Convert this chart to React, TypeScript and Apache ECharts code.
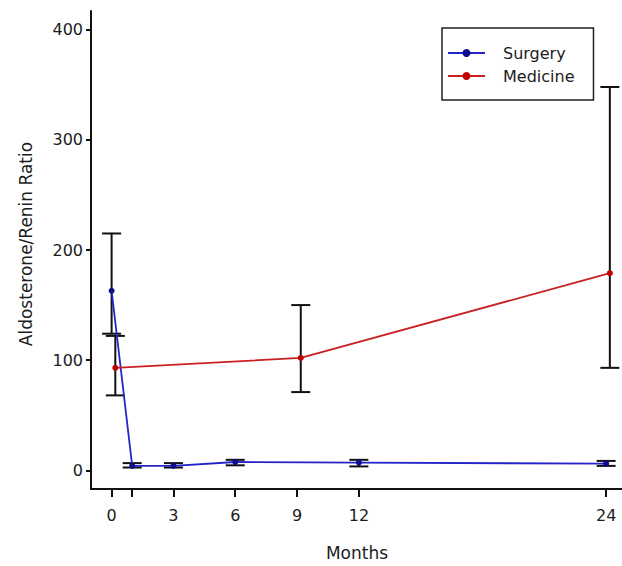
import React, { useEffect, useRef } from "react";
import * as echarts from "echarts";

// ---- Data ----
const surgeryMonths = [0, 1, 3, 6, 12, 24];
const surgeryMean = [163, 4, 4, 7.5, 7, 6];
const surgeryLow = [124, 2.5, 2.5, 4.5, 3.5, 4];
const surgeryHigh = [215, 6.5, 6.5, 9.5, 9.5, 8.5];

const medicineMonths = [0, 9, 24];
const medicineMean = [93, 102, 179];
const medicineLow = [68, 71, 93];
const medicineHigh = [122, 150, 348];

const xTickValues = [0, 1, 3, 6, 9, 12, 24];
const xLabelValues = [0, 3, 6, 9, 12, 24];
const yTickValues = [0, 100, 200, 300, 400];

const MEDICINE_NUDGE = 0.18; // horizontal nudge of the Medicine series, as in the reference

const FONT = "'DejaVu Sans', 'Liberation Sans', Arial, sans-serif";
const TEXT = "#1c1c1c";

export default function App() {
  const ref = useRef<HTMLDivElement>(null);

  useEffect(() => {
    if (!ref.current) return;
    const chart = echarts.init(ref.current, null, { renderer: "svg" });

    const surgeryLine = surgeryMonths.map((m, i) => [m, surgeryMean[i]]);
    const medicineLine = medicineMonths.map((m, i) => [m + MEDICINE_NUDGE, medicineMean[i]]);
    const surgeryErr = surgeryMonths.map((m, i) => [m, surgeryLow[i], surgeryHigh[i]]);
    const medicineErr = medicineMonths.map((m, i) => [m + MEDICINE_NUDGE, medicineLow[i], medicineHigh[i]]);

    const errorRender = (params: any, api: any) => {
      const x = api.value(0);
      const lo = api.coord([x, api.value(1)]);
      const hi = api.coord([x, api.value(2)]);
      const hw = 9.5;
      const style = { stroke: "#111", lineWidth: 2 };
      return {
        type: "group",
        children: [
          { type: "line", shape: { x1: lo[0], y1: lo[1], x2: hi[0], y2: hi[1] }, style },
          { type: "line", shape: { x1: hi[0] - hw, y1: hi[1], x2: hi[0] + hw, y2: hi[1] }, style },
          { type: "line", shape: { x1: lo[0] - hw, y1: lo[1], x2: lo[0] + hw, y2: lo[1] }, style },
        ],
      };
    };

    chart.setOption({
      animation: false,
      backgroundColor: "#ffffff",
      grid: { left: 91, top: 11, width: 531, height: 478, containLabel: false },
      legend: {
        orient: "vertical",
        left: 442,
        top: 28,
        padding: [17, 19, 16, 5],
        itemGap: 7,
        itemWidth: 37,
        itemHeight: 10,
        borderColor: "#222",
        borderWidth: 1.5,
        textStyle: { fontFamily: FONT, fontSize: 16, color: TEXT, lineHeight: 16, padding: [0, 0, 0, 13] },
        data: ["Surgery", "Medicine"],
      },
      xAxis: {
        type: "value",
        min: -1,
        max: 24.77,
        splitLine: { show: false },
        axisLine: { show: true, onZero: false, lineStyle: { color: "#111", width: 2 } },
        axisTick: { show: true, length: 8, customValues: xTickValues, lineStyle: { color: "#111", width: 2 } },
        axisLabel: {
          customValues: xLabelValues,
          margin: 18,
          fontFamily: FONT,
          fontSize: 16,
          color: TEXT,
        },
      },
      yAxis: {
        type: "value",
        min: -17,
        max: 417,
        splitLine: { show: false },
        axisLine: { show: true, onZero: false, lineStyle: { color: "#111", width: 2 } },
        axisTick: { show: true, length: 5, customValues: yTickValues, lineStyle: { color: "#111", width: 2 } },
        axisLabel: {
          customValues: yTickValues,
          margin: 8,
          fontFamily: FONT,
          fontSize: 16,
          color: TEXT,
        },
      },
      graphic: [
        {
          type: "text",
          x: 26,
          y: 244,
          rotation: Math.PI / 2,
          style: {
            text: "Aldosterone/Renin Ratio",
            font: `17px ${FONT}`,
            fill: TEXT,
            align: "center",
            verticalAlign: "middle",
          },
        },
        {
          type: "text",
          x: 357,
          y: 553,
          style: {
            text: "Months",
            font: `17px ${FONT}`,
            fill: TEXT,
            align: "center",
            verticalAlign: "middle",
          },
        },
      ],
      series: [
        {
          type: "custom",
          name: "SurgeryErr",
          renderItem: errorRender,
          data: surgeryErr,
          z: 1,
          silent: true,
        },
        {
          type: "custom",
          name: "MedicineErr",
          renderItem: errorRender,
          data: medicineErr,
          z: 1,
          silent: true,
        },
        {
          type: "line",
          name: "Surgery",
          data: surgeryLine,
          z: 3,
          symbol: "circle",
          symbolSize: 6,
          color: "#1010b8",
          lineStyle: { color: "#2424c8", width: 1.8 },
          itemStyle: { color: "#0c0c8c" },
        },
        {
          type: "line",
          name: "Medicine",
          data: medicineLine,
          z: 3,
          symbol: "circle",
          symbolSize: 6,
          color: "#c81818",
          lineStyle: { color: "#c82020", width: 1.8 },
          itemStyle: { color: "#c00000" },
        },
      ],
    });

    return () => chart.dispose();
  }, []);

  return (
    <div
      ref={ref}
      style={{ position: "fixed", left: 0, top: 0, width: 622, height: 566, background: "#fff" }}
    />
  );
}
